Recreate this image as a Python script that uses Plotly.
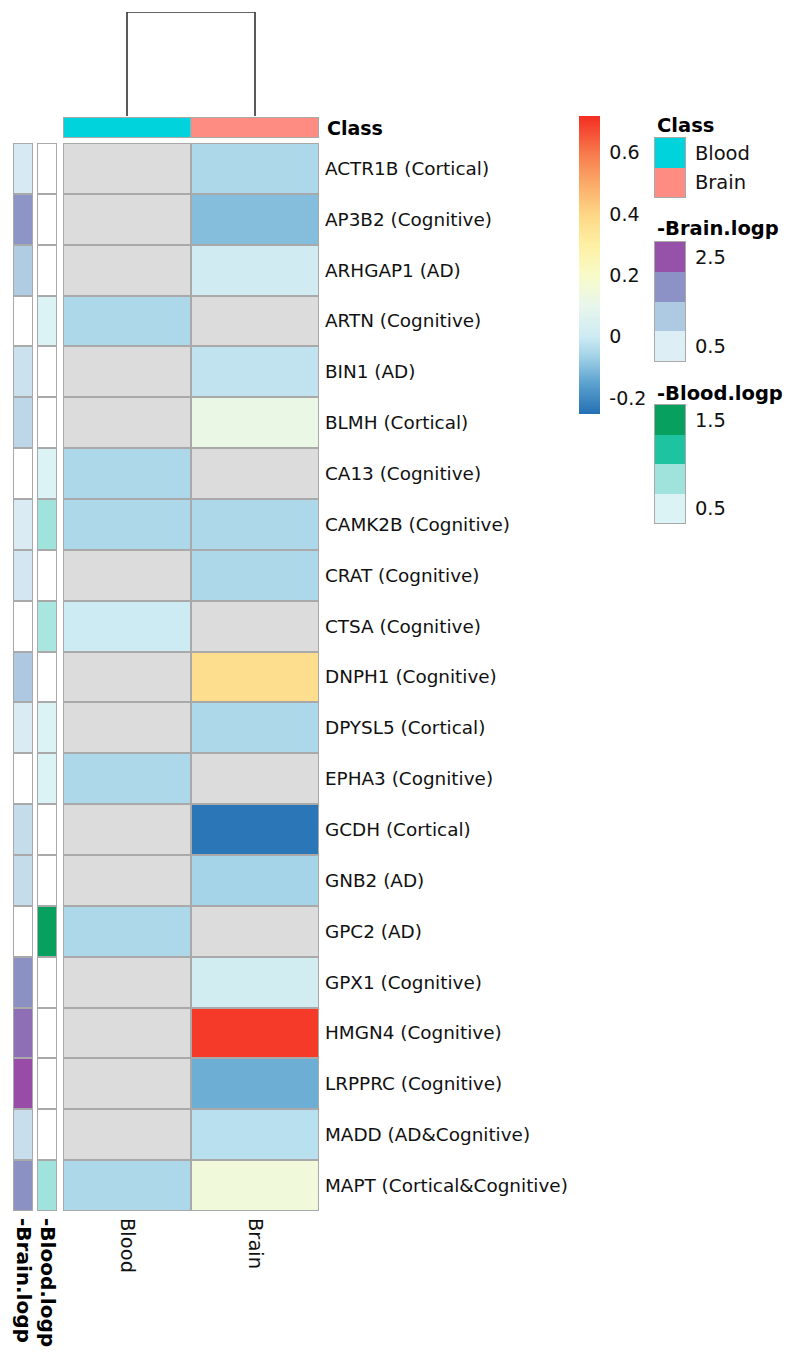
import numpy as np
import plotly.graph_objects as go

# ---------------- data ----------------
genes = ["ACTR1B (Cortical)", "AP3B2 (Cognitive)", "ARHGAP1 (AD)", "ARTN (Cognitive)",
         "BIN1 (AD)", "BLMH (Cortical)", "CA13 (Cognitive)", "CAMK2B (Cognitive)",
         "CRAT (Cognitive)", "CTSA (Cognitive)", "DNPH1 (Cognitive)", "DPYSL5 (Cortical)",
         "EPHA3 (Cognitive)", "GCDH (Cortical)", "GNB2 (AD)", "GPC2 (AD)",
         "GPX1 (Cognitive)", "HMGN4 (Cognitive)", "LRPPRC (Cognitive)",
         "MADD (AD&Cognitive)", "MAPT (Cortical&Cognitive)"]
samples = ["Blood", "Brain"]
nan = np.nan
blood_values = [nan, nan, nan, -0.05, nan, nan, -0.05, -0.05, nan, 0.0, nan, nan,
                -0.05, nan, nan, -0.05, nan, nan, nan, nan, -0.05]
brain_values = [-0.05, -0.10, 0.01, nan, -0.02, 0.12, nan, -0.05, -0.05, nan, 0.37,
                -0.05, nan, -0.24, -0.06, nan, 0.02, 0.70, -0.13, -0.03, 0.15]
brain_logp = [0.6, 1.8, 1.15, nan, 0.75, 0.95, nan, 0.55, 0.65, nan, 1.2, 0.55, nan,
              0.85, 0.85, nan, 1.85, 2.25, 2.6, 0.8, 1.85]
blood_logp = [nan, nan, nan, 0.5, nan, nan, 0.5, 0.83, nan, 0.78, nan, 0.5, 0.5,
              nan, nan, 1.5, nan, nan, nan, nan, 0.83]
class_levels = ["Blood", "Brain"]
class_colors = ["#00D3DC", "#FF8C82"]
brain_logp_legend = [2.5, 1.83, 1.17, 0.5]
blood_logp_legend = [1.5, 1.17, 0.83, 0.5]
colorbar_ticks = [-0.2, 0.0, 0.2, 0.4, 0.6]
dendro_merge_height = 1.0

# ---------------- styles ----------------
W, H = 792, 1354
FONT = "DejaVu Sans"
TXT = "#111111"
BORDER = "#A9A9A9"
NA_MAIN = "#DCDCDC"
GAP = 2
ZMIN, ZMAX = -0.252, 0.72
stops = [(-0.252, "#2470B3"), (-0.15, "#5DA3D0"), (-0.06, "#A5D4E8"), (0.0, "#CDEBF3"),
         (0.1, "#E8F6EC"), (0.2, "#F8FBC8"), (0.3, "#FEF0A4"), (0.4, "#FDD685"),
         (0.5, "#FBAA68"), (0.6, "#F7794C"), (0.72, "#F42D22")]
main_cs = [[(v - ZMIN) / (ZMAX - ZMIN), c] for v, c in stops]
brain_cs = [[0, "#EDF8FB"], [0.35, "#B0CDE3"], [0.62, "#8C96C6"], [0.82, "#8E6DB5"],
            [0.92, "#9650A8"], [1, "#9A48A6"]]
blood_cs = [[0, "#EDF8FB"], [0.36, "#A0E3DC"], [0.64, "#1EC4A0"], [0.92, "#08A05E"],
            [1, "#008F50"]]
B_ZMIN, B_ZMAX = 0.3, 2.7
G_ZMIN, G_ZMAX = 0.4, 1.6


def xd(a, b):
    return [a / W, b / W]


def yd(top, bottom):
    return [1 - bottom / H, 1 - top / H]


def const_cs(c):
    return [[0, c], [1, c]]


main_z = np.array([blood_values, brain_values]).T
ones_main = np.ones_like(main_z)
na_main = np.where(np.isnan(main_z), 1.0, np.nan)

fig = go.Figure()

# ---- main heatmap (x, y)
fig.add_trace(go.Heatmap(z=ones_main, x=samples, y=genes, colorscale=const_cs(BORDER),
                         showscale=False, hoverinfo="skip", xaxis="x", yaxis="y"))
fig.add_trace(go.Heatmap(z=na_main, x=samples, y=genes, colorscale=const_cs(NA_MAIN),
                         showscale=False, xgap=GAP, ygap=GAP, hoverinfo="skip",
                         xaxis="x", yaxis="y"))
fig.add_trace(go.Heatmap(
    z=main_z, x=samples, y=genes, colorscale=main_cs, zmin=ZMIN, zmax=ZMAX,
    xgap=GAP, ygap=GAP, xaxis="x", yaxis="y",
    colorbar=dict(x=579 / W, xanchor="left", y=1 - 116 / H, yanchor="top",
                  len=298, lenmode="pixels", thickness=21, thicknessmode="pixels",
                  outlinewidth=0, xpad=0, ypad=0, tickvals=colorbar_ticks,
                  ticktext=["-0.2", "0", "0.2", "0.4", "0.6"], ticks="outside",
                  ticklen=6, tickcolor="rgba(0,0,0,0)",
                  tickfont=dict(family=FONT, size=19, color=TXT))))

# ---- annotation columns
for vals, cs, zmn, zmx, xa in [(brain_logp, brain_cs, B_ZMIN, B_ZMAX, "x2"),
                               (blood_logp, blood_cs, G_ZMIN, G_ZMAX, "x3")]:
    z = np.array(vals).reshape(-1, 1)
    fig.add_trace(go.Heatmap(z=np.ones_like(z), y=genes, x=[0], colorscale=const_cs(BORDER),
                             showscale=False, hoverinfo="skip", xaxis=xa, yaxis="y"))
    fig.add_trace(go.Heatmap(z=np.where(np.isnan(z), 1.0, np.nan), y=genes, x=[0],
                             colorscale=const_cs("#FFFFFF"), showscale=False,
                             xgap=GAP, ygap=GAP, hoverinfo="skip", xaxis=xa, yaxis="y"))
    fig.add_trace(go.Heatmap(z=z, y=genes, x=[0], colorscale=cs, zmin=zmn, zmax=zmx,
                             showscale=False, xgap=GAP, ygap=GAP, xaxis=xa, yaxis="y"))

# ---- class bar
class_z = [[i for i in range(len(class_levels))]]
class_cs = [[0, class_colors[0]], [0.5, class_colors[0]], [0.5, class_colors[1]],
            [1, class_colors[1]]]
fig.add_trace(go.Heatmap(z=[[1, 1]], x=samples, y=["Class"], colorscale=const_cs(BORDER),
                         showscale=False, hoverinfo="skip", xaxis="x4", yaxis="y4"))
fig.add_trace(go.Heatmap(z=class_z, x=samples, y=["Class"], colorscale=class_cs,
                         zmin=0, zmax=1, showscale=False, xgap=GAP, ygap=GAP,
                         xaxis="x4", yaxis="y4"))

# ---- dendrogram
fig.add_trace(go.Scatter(x=[samples[0], samples[0], samples[1], samples[1]],
                         y=[0, dendro_merge_height, dendro_merge_height, 0],
                         mode="lines", line=dict(color="#333333", width=1.6),
                         showlegend=False, hoverinfo="skip", xaxis="x5", yaxis="y5"))

# ---- legends
fig.add_trace(go.Heatmap(z=[[0], [1]], x=[0], y=[0, 1], colorscale=class_cs,
                         zmin=0, zmax=1, showscale=False, xaxis="x6", yaxis="y6"))
fig.add_trace(go.Heatmap(z=[[v] for v in brain_logp_legend], x=[0],
                         y=list(range(len(brain_logp_legend))), colorscale=brain_cs,
                         zmin=B_ZMIN, zmax=B_ZMAX, showscale=False, xaxis="x7", yaxis="y7"))
fig.add_trace(go.Heatmap(z=[[v] for v in blood_logp_legend], x=[0],
                         y=list(range(len(blood_logp_legend))), colorscale=blood_cs,
                         zmin=G_ZMIN, zmax=G_ZMAX, showscale=False, xaxis="x8", yaxis="y8"))

tf = dict(family=FONT, size=18.4, color=TXT)
tf_leg = dict(family=FONT, size=19.5, color=TXT)
tf_bold = dict(family=FONT, size=20, color="#000000")
hidden = dict(showgrid=False, zeroline=False, showticklabels=False, ticks="")
leg_x = dict(hidden, range=[-0.5, 0.5], showline=True, mirror=True, linecolor=BORDER,
             linewidth=1)


def leg_y(anchor, top, bottom, n, tickvals, ticktext):
    return dict(anchor=anchor, domain=yd(top, bottom), side="right",
                range=[n - 0.5, -0.5], showgrid=False,
                zeroline=False, ticks="", tickvals=tickvals, ticktext=ticktext,
                tickfont=tf_leg, ticklabelstandoff=5, showline=True, mirror=True,
                linecolor=BORDER, linewidth=1)


fig.update_layout(
    width=W, height=H, autosize=False,
    margin=dict(l=0, r=0, t=0, b=0, autoexpand=False),
    paper_bgcolor="white", plot_bgcolor="white", showlegend=False,
    font=dict(family=FONT, color=TXT),
    xaxis=dict(domain=xd(63, 319), anchor="y", showgrid=False, zeroline=False,
               ticks="", tickangle=90, tickfont=tf_leg, ticklabelstandoff=6),
    yaxis=dict(domain=yd(143, 1211), anchor="x", side="right", showgrid=False,
               zeroline=False, ticks="", tickfont=tf, ticklabelstandoff=5,
               categoryorder="array", categoryarray=genes, autorange="reversed"),
    xaxis2=dict(domain=xd(13, 33), anchor="y", showgrid=False, zeroline=False,
                range=[-0.5, 0.5], ticks="", tickvals=[0],
                ticktext=["<b>-Brain.logp</b>"], tickangle=90, tickfont=tf_bold,
                ticklabelstandoff=6),
    xaxis3=dict(domain=xd(37, 57), anchor="y", showgrid=False, zeroline=False,
                range=[-0.5, 0.5], ticks="", tickvals=[0],
                ticktext=["<b>-Blood.logp</b>"], tickangle=90, tickfont=tf_bold,
                ticklabelstandoff=6),
    xaxis4=dict(domain=xd(63, 319), anchor="y4", matches="x", **hidden),
    yaxis4=dict(domain=yd(117, 138), anchor="x4", **hidden),
    xaxis5=dict(domain=xd(63, 319), anchor="y5", matches="x", **hidden),
    yaxis5=dict(domain=yd(12, 116), anchor="x5", range=[0, dendro_merge_height * 1.0],
                **hidden),
    xaxis6=dict(domain=xd(655, 685), anchor="y6", **leg_x),
    yaxis6=leg_y("x6", 138, 197, 2, [0, 1], class_levels),
    xaxis7=dict(domain=xd(655, 685), anchor="y7", **leg_x),
    yaxis7=leg_y("x7", 242, 361, 4, [0, 3], ["2.5", "0.5"]),
    xaxis8=dict(domain=xd(655, 685), anchor="y8", **leg_x),
    yaxis8=leg_y("x8", 405, 523, 4, [0, 3], ["1.5", "0.5"]),
)

titles = [("Class", 325, 128, 19), ("Class", 655, 125, 19.5),
          ("-Brain.logp", 655, 229, 19.5), ("-Blood.logp", 655, 393, 19.5)]
for t, px, py, fs in titles:
    fig.add_annotation(text="<b>" + t + "</b>", x=px / W, y=1 - py / H, xref="paper",
                       yref="paper", xanchor="left", yanchor="middle", showarrow=False,
                       font=dict(family=FONT, size=fs, color="#000000"))

fig.write_html("out.html", config={"displayModeBar": False},
               post_script="document.body.style.margin='0px';")
